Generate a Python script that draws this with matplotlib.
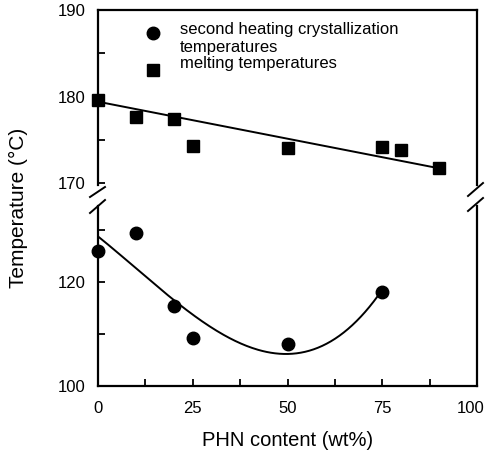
import numpy as np
import matplotlib.pyplot as plt
from matplotlib.lines import Line2D
from matplotlib.ticker import MultipleLocator, FuncFormatter

plt.rcParams['font.family'] = ['Liberation Sans', 'DejaVu Sans']

# melting temperatures (squares)
melt_x = [0, 10, 20, 25, 50, 75, 80, 90]
melt_y = [179.6, 177.6, 177.4, 174.3, 174.1, 174.2, 173.8, 171.7]
# straight fit line through the melting points
melt_line_x = [0, 90]
melt_line_y = [179.4, 171.7]

# second heating crystallization temperatures (circles)
cryst_x = [0, 10, 20, 25, 50, 75]
cryst_y = [126.0, 129.5, 115.4, 109.2, 108.1, 118.1]

W, H = 488, 459
fig = plt.figure(figsize=(W / 100, H / 100), dpi=100)

def frac(l, t, r, b):
    return [l / W, 1 - b / H, (r - l) / W, (b - t) / H]

ax_top = fig.add_axes(frac(98, 10, 477, 185))
ax_bot = fig.add_axes(frac(98, 206, 477, 386))

# top panel
ax_top.plot(melt_line_x, melt_line_y, color='black', lw=1.4, zorder=2)
ax_top.plot(melt_x, melt_y, 's', color='black', ms=8, clip_on=False, zorder=3)
ax_top.set_xlim(0, 100)
ax_top.set_ylim(169.77, 190)
ax_top.yaxis.set_major_locator(MultipleLocator(10))
ax_top.yaxis.set_minor_locator(MultipleLocator(5))
ax_top.spines['bottom'].set_visible(False)
ax_top.tick_params(axis='x', which='both', bottom=False, labelbottom=False)

# bottom panel: cubic fit curve through the crystallization points
coef = np.polyfit(cryst_x, cryst_y, 3)
xx = np.linspace(0, 75, 200)
ax_bot.plot(xx, np.polyval(coef, xx), color='black', lw=1.4, zorder=2)
ax_bot.plot(cryst_x, cryst_y, 'o', color='black', ms=9, clip_on=False, zorder=3)
ax_bot.set_xlim(0, 100)
ax_bot.set_ylim(100, 134.6)
ax_bot.yaxis.set_major_locator(MultipleLocator(20))
ax_bot.yaxis.set_minor_locator(MultipleLocator(10))
ax_bot.xaxis.set_major_locator(MultipleLocator(25))
ax_bot.xaxis.set_minor_locator(MultipleLocator(12.5))
# the last label ("100") is placed by hand a little to the left
ax_bot.xaxis.set_major_formatter(FuncFormatter(lambda v, p: '' if v >= 100 else f'{v:g}'))
ax_bot.spines['top'].set_visible(False)

for ax in (ax_top, ax_bot):
    for s in ax.spines.values():
        s.set_linewidth(1.6)
    ax.tick_params(which='both', direction='in', width=1.3, labelsize=12)
    ax.tick_params(which='major', length=5)
    ax.tick_params(which='minor', length=5)
    ax.tick_params(axis='y', pad=9)
    ax.tick_params(axis='x', pad=11)

ax_bot.annotate('100', xy=(100, 0), xycoords=('data', 'axes fraction'),
                xytext=(-4.5, -11), textcoords='offset points',
                ha='center', va='top', fontsize=12)

# break marks
for (x0, y0, x1, y1) in [(90, 197, 105, 187), (90, 213, 105, 200),
                         (468, 196, 483, 183), (468, 211, 483, 198)]:
    fig.add_artist(Line2D([x0 / W, x1 / W], [1 - y0 / H, 1 - y1 / H],
                          color='black', lw=1.4))

# legend
ax_top.plot([0.145], [0.870], 'o', color='black', ms=9, transform=ax_top.transAxes)
ax_top.plot([0.145], [0.655], 's', color='black', ms=8, transform=ax_top.transAxes)
ax_top.text(0.216, 0.930, 'second heating crystallization\ntemperatures',
            transform=ax_top.transAxes, fontsize=12, va='top', ha='left',
            linespacing=1.2)
ax_top.text(0.216, 0.695, 'melting temperatures', transform=ax_top.transAxes,
            fontsize=12, va='center', ha='left')

fig.text(288 / W, 1 - 441 / H, 'PHN content (wt%)', fontsize=14.5,
         ha='center', va='center')
fig.text(18 / W, 1 - 208 / H, 'Temperature (°C)', fontsize=15,
         ha='center', va='center', rotation=90)

fig.savefig('out.png', dpi=100)
